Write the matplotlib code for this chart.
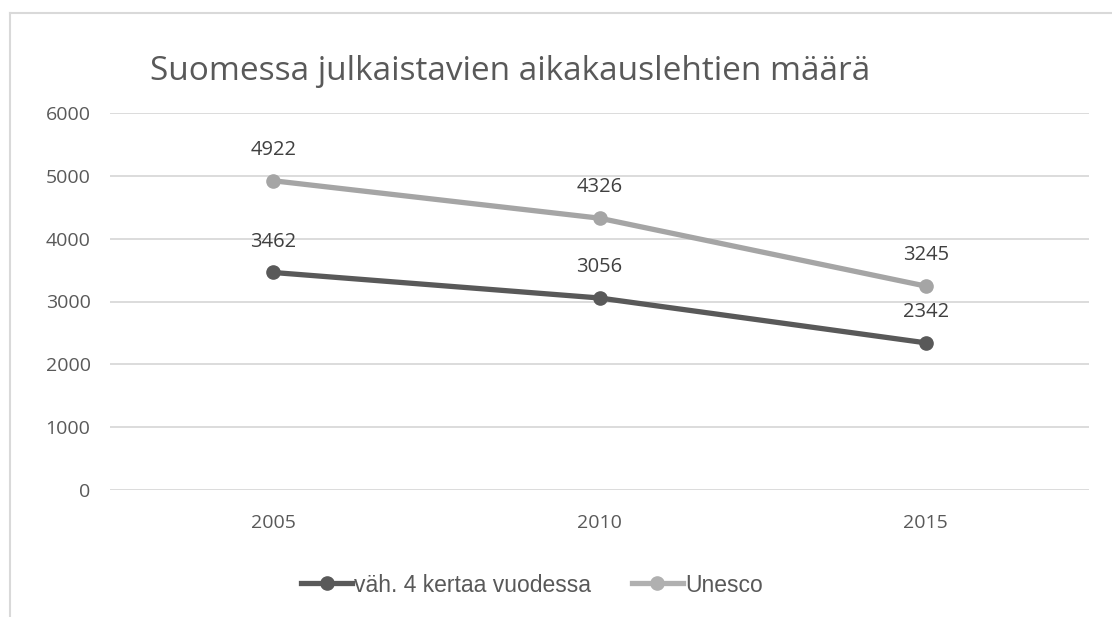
import matplotlib.pyplot as plt
from matplotlib.lines import Line2D

years = ["2005", "2010", "2015"]
vah4 = [3462, 3056, 2342]
unesco = [4922, 4326, 3245]
series_names = ["väh. 4 kertaa vuodessa", "Unesco"]
yticks = [0, 1000, 2000, 3000, 4000, 5000, 6000]

dark = "#595959"
light = "#a5a5a5"
txt = "#404040"

fig = plt.figure(figsize=(11.12, 6.17), dpi=100)
# plot area in pixels: x 110..1089, y 113..490
ax = fig.add_axes([110/1112, 1-490/617, (1089-110)/1112, (490-113)/617])

x = list(range(len(years)))
ax.plot(x, vah4, color=dark, lw=3.8, marker="o", ms=9.5, solid_capstyle="round")
ax.plot(x, unesco, color=light, lw=3.8, marker="o", ms=9.5, solid_capstyle="round")

for xi, v in zip(x, vah4):
    ax.annotate(str(v), (xi, v), xytext=(0, 15), textcoords="offset points",
                ha="center", va="bottom", fontsize=14.5, color=txt, family="Open Sans")
for xi, v in zip(x, unesco):
    ax.annotate(str(v), (xi, v), xytext=(0, 15), textcoords="offset points",
                ha="center", va="bottom", fontsize=14.5, color=txt, family="Open Sans")

ax.set_xlim(-0.5, 2.5)
ax.set_ylim(0, 6000)
ax.set_yticks(yticks)
ax.set_xticks(x)
ax.set_xticklabels(years)
ax.grid(axis="y", color="#d9d9d9", lw=1.3)
ax.set_axisbelow(True)
for s in ax.spines.values():
    s.set_visible(False)
ax.tick_params(length=0, labelsize=14, colors="#595959")
ax.tick_params(axis="y", pad=14)
ax.tick_params(axis="x", pad=17)
for lab in ax.get_xticklabels() + ax.get_yticklabels():
    lab.set_family("Open Sans")

fig.text(150/1112, 1-72/617, "Suomessa julkaistavien aikakauslehtien määrä",
         fontsize=24, color="#595959", family="Open Sans", va="center", ha="left")

handles = [Line2D([], [], color=dark, lw=3.8, marker="o", ms=9.5),
           Line2D([], [], color="#b0b0b0", lw=3.8, marker="o", ms=9.5)]
fig.legend(handles, series_names, loc="center", bbox_to_anchor=(532/1112, 1-585/617),
           ncol=2, frameon=False, handlelength=2.2, handletextpad=0.1,
           columnspacing=1.8, labelcolor="#595959",
           prop={"family": "Liberation Sans", "size": 16.5})

# chart frame (cropped at right and bottom)
fig.add_artist(Line2D([10/1112, 10/1112], [0, 1-13/617], color="#d9d9d9", lw=1.5,
                      transform=fig.transFigure))
fig.add_artist(Line2D([10/1112, 1], [1-13/617, 1-13/617], color="#d9d9d9", lw=1.5,
                      transform=fig.transFigure))

fig.savefig("out.png", dpi=100)
